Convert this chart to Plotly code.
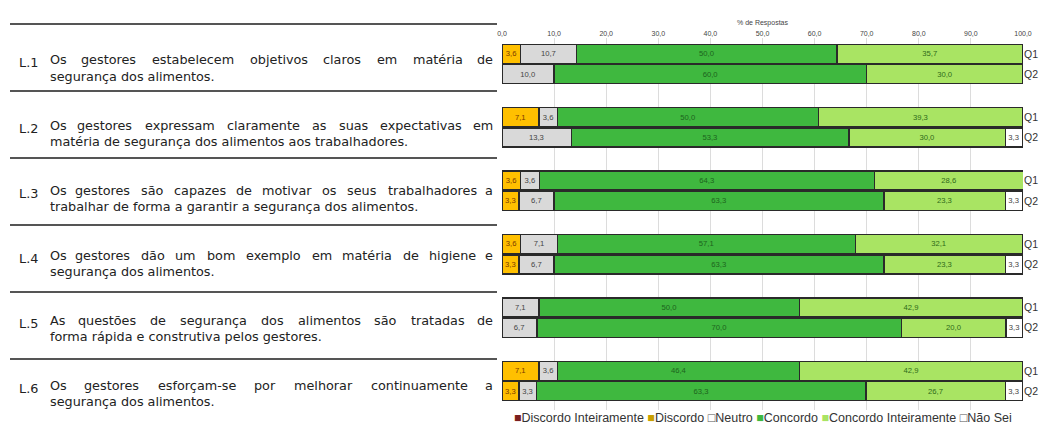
import plotly.graph_objects as go

items = ["L.1", "L.2", "L.3", "L.4", "L.5", "L.6"]
statements = [
    ("Os gestores estabelecem objetivos claros em matéria de", "segurança dos alimentos."),
    ("Os gestores expressam claramente as suas expectativas em", "matéria de segurança dos alimentos aos trabalhadores."),
    ("Os gestores são capazes de motivar os seus trabalhadores a", "trabalhar de forma a garantir a segurança dos alimentos."),
    ("Os gestores dão um bom exemplo em matéria de higiene e", "segurança dos alimentos."),
    ("As questões de segurança dos alimentos são tratadas de", "forma rápida e construtiva pelos gestores."),
    ("Os gestores esforçam-se por melhorar continuamente a", "segurança dos alimentos."),
]
questions = ["Q1", "Q2"]
categories = ["Discordo Inteiramente", "Discordo", "Neutro", "Concordo", "Concordo Inteiramente", "Não Sei"]

q1_discordo_int = [0, 0, 0, 0, 0, 0]
q1_discordo = [3.6, 7.1, 3.6, 3.6, 0, 7.1]
q1_neutro = [10.7, 3.6, 3.6, 7.1, 7.1, 3.6]
q1_concordo = [50.0, 50.0, 64.3, 57.1, 50.0, 46.4]
q1_concordo_int = [35.7, 39.3, 28.6, 32.1, 42.9, 42.9]
q1_nao_sei = [0, 0, 0, 0, 0, 0]

q2_discordo_int = [0, 0, 0, 0, 0, 0]
q2_discordo = [0, 0, 3.3, 3.3, 0, 3.3]
q2_neutro = [10.0, 13.3, 6.7, 6.7, 6.7, 3.3]
q2_concordo = [60.0, 53.3, 63.3, 63.3, 70.0, 63.3]
q2_concordo_int = [30.0, 30.0, 23.3, 23.3, 20.0, 26.7]
q2_nao_sei = [0, 3.3, 3.3, 3.3, 3.3, 3.3]

q1_values = [q1_discordo_int, q1_discordo, q1_neutro, q1_concordo, q1_concordo_int, q1_nao_sei]
q2_values = [q2_discordo_int, q2_discordo, q2_neutro, q2_concordo, q2_concordo_int, q2_nao_sei]

fills = ["#7b1f1f", "#ffc000", "#d9d9d9", "#3fb83f", "#a9e463", "#ffffff"]
text_colors = ["#ffffff", "#7a3a00", "#444444", "#1d641d", "#2f6b1a", "#444444"]

# figure geometry (pixels)
W, H = 1046, 427
ML, MR, MT, MB = 502, 23, 38, 17
PW = W - ML - MR
PH = H - MT - MB
ROW = 63.4     # pixels per statement row (bars)
ROW0 = 64      # pixel centre of first row
OFF = 0.16     # Q1/Q2 offset from row centre


def px(xp):
    return (xp - ML) / PW


def py(yp):
    return 1 - (yp - MT) / PH


bar_y = []
for k in range(len(items)):
    bar_y += [k - OFF, k + OFF]


def fmt(v):
    return f"{v:.1f}".replace(".", ",") if v else ""


fig = go.Figure()
for c, cat in enumerate(categories):
    xs = []
    for k in range(len(items)):
        xs += [q1_values[c][k], q2_values[c][k]]
    fig.add_trace(go.Bar(
        x=xs, y=bar_y, orientation="h", width=0.30, name=cat,
        marker=dict(color=fills[c], line=dict(color="#2a2a2a", width=1.4)),
        text=[fmt(v) for v in xs], textposition="inside", insidetextanchor="middle",
        textangle=0, textfont=dict(size=8, color=text_colors[c], family="Liberation Sans"),
        showlegend=False,
    ))

# rough DejaVu Sans advance widths (em) for justifying the first text line
CW = {"a": .613, "b": .635, "c": .55, "d": .635, "e": .615, "f": .352, "g": .635, "h": .634,
      "i": .278, "j": .278, "k": .579, "l": .278, "m": .974, "n": .634, "o": .612, "p": .635,
      "q": .635, "r": .411, "s": .521, "t": .392, "u": .634, "v": .592, "w": .818, "x": .592,
      "y": .592, "z": .525, ".": .318, ",": .318, "-": .361, "O": .787, "A": .684,
      "á": .613, "ã": .613, "ç": .55, "é": .615, "õ": .612, "ê": .615}
FS = 12.8
TXT_FONT = dict(family="DejaVu Sans", size=FS, color="#222222")


def word_w(w):
    return sum(CW.get(ch, .6) for ch in w) * FS


X_TXT0, X_TXT1 = 48, 495
annotations = []
shapes = []
for k, (it, (line1, line2)) in enumerate(zip(items, statements)):
    sep_y = 24 + 67 * k
    l1_y = 60 + 65 * k
    shapes.append(dict(type="line", xref="paper", yref="paper", x0=px(10), x1=px(497),
                       y0=py(sep_y), y1=py(sep_y), line=dict(color="#555555", width=2)))
    annotations.append(dict(text=it, xref="paper", yref="paper", x=px(17), y=py(l1_y + 3),
                            xanchor="left", yanchor="middle", showarrow=False, font=TXT_FONT))
    words = line1.split(" ")
    widths = [word_w(w) for w in words]
    gap = (X_TXT1 - X_TXT0 - sum(widths)) / (len(words) - 1)
    left = X_TXT0
    for i, (w, ww) in enumerate(zip(words, widths)):
        if i == 0:
            xa, xp = "left", left
        elif i == len(words) - 1:
            xa, xp = "right", X_TXT1
        else:
            xa, xp = "center", left + ww / 2
        annotations.append(dict(text=w, xref="paper", yref="paper", x=px(xp), y=py(l1_y),
                                xanchor=xa, yanchor="middle", showarrow=False, font=TXT_FONT))
        left += ww + gap
    annotations.append(dict(text=line2, xref="paper", yref="paper", x=px(X_TXT0), y=py(l1_y + 16),
                            xanchor="left", yanchor="middle", showarrow=False, font=TXT_FONT))

legend_marks = ["■", "■", "□", "■", "■", "□"]
legend_cols = ["#7b1f1f", "#c9a000", "#555555", "#3fb83f", "#a9e463", "#555555"]
legend_txt = " ".join(
    f"<span style='color:{col}'>{m}</span>{cat}" for m, col, cat in zip(legend_marks, legend_cols, categories)
)
annotations.append(dict(text=legend_txt, xref="paper", yref="paper", x=0.5, y=py(418),
                        xanchor="center", yanchor="middle", showarrow=False,
                        font=dict(family="Liberation Sans", size=12.5, color="#333333")))

fig.update_layout(
    width=W, height=H,
    margin=dict(l=ML, r=MR, t=MT, b=MB, autoexpand=False),
    paper_bgcolor="white", plot_bgcolor="white",
    barmode="stack", separators=", ",
    uniformtext=dict(minsize=7, mode="show"),
    annotations=annotations, shapes=shapes,
    xaxis=dict(
        range=[0, 100], dtick=10, tickformat=".1f", side="top",
        showgrid=True, gridcolor="#dcdcdc", gridwidth=1, zeroline=False,
        tickfont=dict(family="Liberation Sans", size=7, color="#444444"),
        title=dict(text="% de Respostas", standoff=3,
                   font=dict(family="Liberation Sans", size=7, color="#444444")),
        automargin=False, ticklen=0,
    ),
    yaxis=dict(
        range=[(H - MB - ROW0) / ROW, (MT - ROW0) / ROW],
        tickvals=bar_y, ticktext=questions * len(items), side="right",
        showgrid=False, zeroline=False, automargin=False, ticklen=0,
        tickfont=dict(family="Liberation Sans", size=10.5, color="#333333"),
    ),
)

fig.write_html("out.html", config={"displayModeBar": False},
               post_script="document.body.style.margin='0';")
